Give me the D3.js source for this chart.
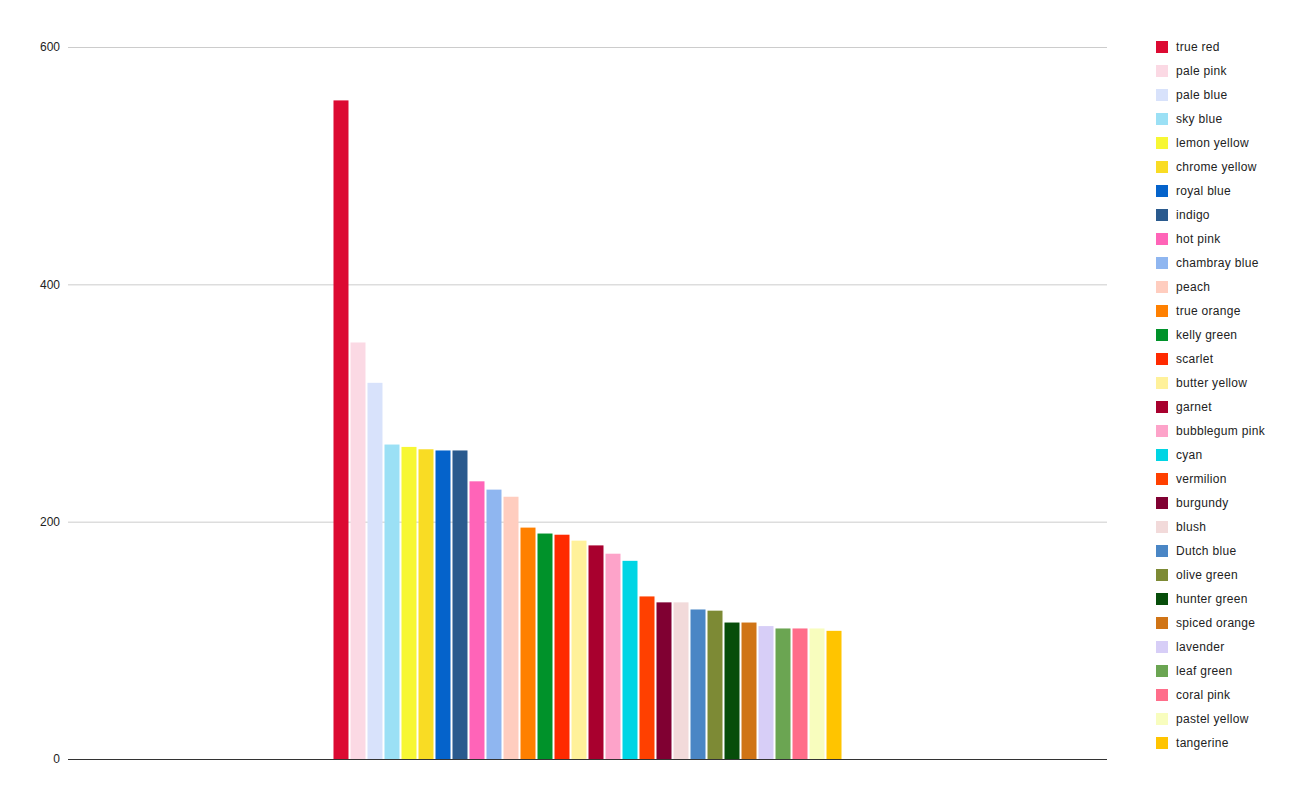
<!DOCTYPE html>
<html>
<head>
<meta charset="utf-8">
<script src="https://cdn.jsdelivr.net/npm/d3@7"></script>
<style>
  html, body { margin: 0; padding: 0; background: #fff; }
  svg { display: block; font-family: "Liberation Sans", Arial, sans-serif; }
</style>
</head>
<body>
<svg id="chart" width="1305" height="807"></svg>
<script>
const seriesNames = ["true red","pale pink","pale blue","sky blue","lemon yellow","chrome yellow","royal blue","indigo","hot pink","chambray blue","peach","true orange","kelly green","scarlet","butter yellow","garnet","bubblegum pink","cyan","vermilion","burgundy","blush","Dutch blue","olive green","hunter green","spiced orange","lavender","leaf green","coral pink","pastel yellow","tangerine"];
const seriesValues = [555,351,317,265,263,261,260,260,234,227,221,195,190,189,184,180,173,167,137,132,132,126,125,115,115,112,110,110,110,108];
const seriesColors = ["#DC0A32","#FBD9E4","#D8E2FB","#9BE0F5","#F7F734","#F9DC24","#0563CB","#2A5A8E","#FF64B8","#8FB6F0","#FFCDBF","#FF8000","#00922A","#FF2A00","#FFF19A","#A8002E","#FDA3C9","#00D5E4","#FF4000","#800032","#F2DADA","#4A86C5","#7D8A35","#074D0A","#D07416","#D7CEF7","#6BA552","#FF6D8A","#F8FDBE","#FFC400"];
const categories = [""];
const yTicks = [0,200,400,600];

(function () {
const svg = d3.select("#chart");
const mLeft = 68, mRight = 1107, mTop = 47, mBottom = 759;

const x0 = d3.scaleBand().domain(categories).range([mLeft, mRight]).paddingInner(0).paddingOuter(0.5186);
const x1 = d3.scaleBand().domain(seriesNames).range([0, x0.bandwidth()]).paddingInner(2/17).paddingOuter(1/17);
const y = d3.scaleLinear().domain([0, 600]).range([mBottom, mTop]);

// gridlines
const yAxis = d3.axisLeft(y).tickValues(yTicks).tickSize(-(mRight-mLeft)).tickFormat(d3.format("d"));
const ga = svg.append("g").attr("transform", `translate(${mLeft},0)`).call(yAxis);
ga.select(".domain").remove();
ga.selectAll(".tick line").attr("stroke", d => d === 0 ? "#333" : "#ccc").attr("stroke-width", 1);
ga.selectAll(".tick text").attr("x", -8).attr("fill", "#222").style("font-size", "12px").style("font-family", "'Liberation Sans', Arial, sans-serif");

// bars
const data = seriesNames.map((n,i) => ({name:n, value:seriesValues[i], color:seriesColors[i]}));
svg.append("g").selectAll("rect").data(data).join("rect")
  .attr("x", d => x0("") + x1(d.name))
  .attr("y", d => y(d.value))
  .attr("width", x1.bandwidth())
  .attr("height", d => y(0) - y(d.value))
  .attr("fill", d => d.color);

// baseline on top
svg.append("line").attr("x1", mLeft).attr("x2", mRight).attr("y1", y(0)+0.5).attr("y2", y(0)+0.5).attr("stroke", "#333");

// legend
const lg = svg.append("g").attr("transform", "translate(1156,41)");
const item = lg.selectAll("g").data(data).join("g").attr("transform", (d,i) => `translate(0,${i*24})`);
item.append("rect").attr("width", 12).attr("height", 12).attr("fill", d => d.color);
item.append("text").attr("x", 20).attr("y", 10).attr("fill", "#222").style("font-size", "12px").style("letter-spacing", "0.3px").text(d => d.name);
})();
</script>
</body>
</html>
